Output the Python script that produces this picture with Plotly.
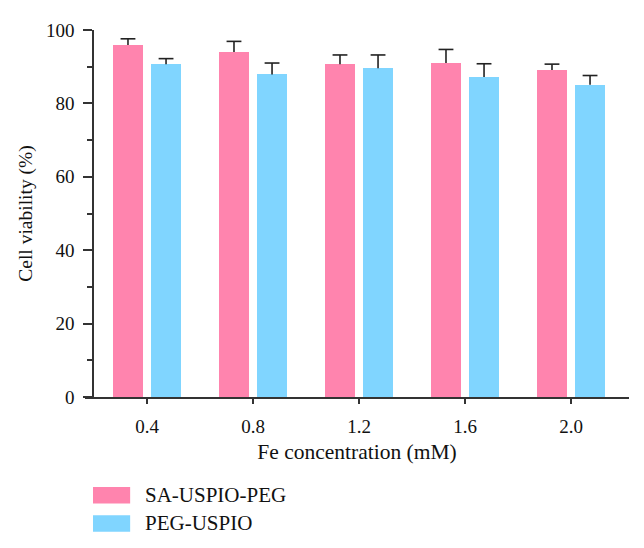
import plotly.graph_objects as go

categories = ["0.4", "0.8", "1.2", "1.6", "2.0"]
series_names = ["SA-USPIO-PEG", "PEG-USPIO"]
sa_values = [95.9, 94.0, 90.7, 91.0, 89.1]
sa_errors = [1.7, 2.9, 2.5, 3.7, 1.6]
peg_values = [90.7, 87.9, 89.6, 87.2, 85.1]
peg_errors = [1.5, 3.1, 3.6, 3.6, 2.5]
y_ticks = [0, 20, 40, 60, 80, 100]

colors = ["#FF84AE", "#80D5FF"]
FONT = "Liberation Serif"
xpos = list(range(len(categories)))
BAR_W = 0.283
CAP = 0.07

fig = go.Figure()
for name, vals, errs, col, off in [
    (series_names[0], sa_values, sa_errors, colors[0], -0.321),
    (series_names[1], peg_values, peg_errors, colors[1], 0.038),
]:
    fig.add_trace(go.Bar(
        x=xpos, y=vals, name=name, marker=dict(color=col, line=dict(width=0)),
        width=BAR_W, offset=off, showlegend=False,
    ))
    # one-sided (upper) error bars
    ex, ey = [], []
    for xi, v, e in zip(xpos, vals, errs):
        c = xi + off + BAR_W / 2
        ex += [c, c, None, c - CAP, c + CAP, None]
        ey += [v, v + e, None, v + e, v + e, None]
    fig.add_trace(go.Scatter(x=ex, y=ey, mode="lines", showlegend=False,
                             line=dict(color="#222222", width=1.6),
                             hoverinfo="skip", cliponaxis=False))

# legend swatches drawn in paper space
for i, (name, col) in enumerate(zip(series_names, colors)):
    y0 = -0.245 - i * 0.077
    fig.add_shape(type="rect", xref="paper", yref="paper",
                  x0=0.0147, x1=0.083, y0=y0 - 0.045, y1=y0,
                  fillcolor=col, line=dict(width=0))
    fig.add_annotation(xref="paper", yref="paper", x=0.106, y=y0 - 0.0225,
                       text=name, showarrow=False, xanchor="left",
                       yanchor="middle", font=dict(family=FONT, size=21, color="#111"))

fig.update_layout(
    width=644, height=548,
    margin=dict(l=77, r=23, t=14, b=159),
    paper_bgcolor="white", plot_bgcolor="white",
    font=dict(family=FONT, size=19, color="#111"),
    bargap=0,
    xaxis=dict(
        range=[-0.585, 4.547], tickvals=xpos, ticktext=categories,
        showline=True, linecolor="#333", linewidth=1.5,
        ticks="outside", ticklen=5, tickcolor="#333", tickwidth=1.5,
        showgrid=False, zeroline=False, ticklabelstandoff=6,
        title=dict(text="Fe concentration (mM)", font=dict(size=21.5), standoff=8),
        tickfont=dict(size=19),
    ),
    yaxis=dict(
        range=[0, 100], tickvals=y_ticks, anchor="free", position=0.0147,
        showline=True, linecolor="#333", linewidth=1.5,
        ticks="outside", ticklen=9, tickcolor="#333", tickwidth=1.5,
        minor=dict(dtick=10, ticks="outside", ticklen=5, tickcolor="#333", tickwidth=1.5, showgrid=False),
        showgrid=False, zeroline=False, ticklabelstandoff=5,
        title=dict(text="Cell viability (%)", font=dict(size=19.5), standoff=7),
        tickfont=dict(size=19),
    ),
)

fig.write_html("out.html")
